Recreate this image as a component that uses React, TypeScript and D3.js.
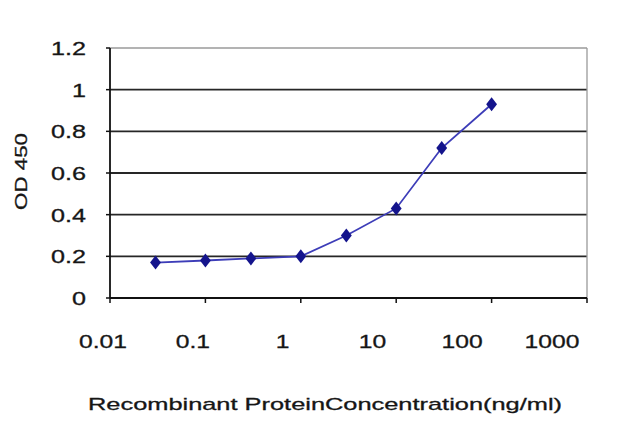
import React from "react";
import * as d3 from "d3";

const concentrations = [0.03, 0.1, 0.3, 1, 3, 10, 30, 100];
const odValues = [0.17, 0.18, 0.19, 0.2, 0.3, 0.43, 0.72, 0.93];
const xTicks = [0.01, 0.1, 1, 10, 100, 1000];
const xTickLabels = ["0.01", "0.1", "1", "10", "100", "1000"];
const yTicks = [0, 0.2, 0.4, 0.6, 0.8, 1, 1.2];
const yTickLabels = ["0", "0.2", "0.4", "0.6", "0.8", "1", "1.2"];
const xTitle = "Recombinant ProteinConcentration(ng/ml)";
const yTitle = "OD 450";

const W = 640;
const H = 427;
const left = 110;
const right = 587;
const top = 48;
const bottom = 298;
const FONT = "'Liberation Sans', Arial, sans-serif";
const TEXT = "#161616";

export default function App() {
  const x = d3.scaleLog().domain([0.01, 1000]).range([left, right]);
  const xLabel = d3.scaleLog().domain([0.01, 1000]).range([103, 552]);
  const y = d3.scaleLinear().domain([0, 1.2]).range([bottom, top]);
  const line = d3
    .line<number>()
    .x((_, i) => x(concentrations[i]))
    .y((d) => y(d));
  const diamond = d3.symbol().type(d3.symbolDiamond).size(56)() as string;

  return (
    <svg
      width={W}
      height={H}
      style={{ position: "absolute", left: 0, top: 0, background: "#fff" }}
    >
      <rect x={0} y={0} width={W} height={H} fill="#fff" />
      {yTicks.map((t) =>
        t === 0 ? null : (
          <line
            key={"g" + t}
            x1={left}
            x2={right}
            y1={y(t)}
            y2={y(t)}
            stroke={t === 1.2 ? "#9a9a9a" : "#262626"}
            strokeWidth={t === 1.2 ? 1.3 : 1.8}
          />
        )
      )}
      <line x1={right} x2={right} y1={top} y2={bottom} stroke="#9a9a9a" strokeWidth={1.3} />
      <line x1={left} x2={left} y1={top} y2={bottom} stroke="#111" strokeWidth={1.8} />
      <line x1={left} x2={right} y1={bottom} y2={bottom} stroke="#111" strokeWidth={1.8} />
      {xTicks.map((t) => (
        <line key={"xt" + t} x1={x(t)} x2={x(t)} y1={bottom} y2={bottom + 5} stroke="#111" strokeWidth={1.5} />
      ))}
      {yTicks.map((t) => (
        <line key={"yt" + t} x1={left - 4} x2={left} y1={y(t)} y2={y(t)} stroke="#111" strokeWidth={1.5} />
      ))}
      {yTicks.map((t, i) => (
        <g key={"yl" + t} transform={`translate(86,${y(t) + 1}) scale(1.4,1)`}>
          <text
            textAnchor="end"
            dominantBaseline="central"
            fontFamily={FONT}
            fontSize={18}
            fill={TEXT}
            stroke={TEXT}
            strokeWidth={0.3}
          >
            {yTickLabels[i]}
          </text>
        </g>
      ))}
      {xTicks.map((t, i) => (
        <g key={"xl" + t} transform={`translate(${xLabel(t)},342) scale(1.3,1)`}>
          <text
            textAnchor="middle"
            dominantBaseline="central"
            fontFamily={FONT}
            fontSize={19}
            fill={TEXT}
            stroke={TEXT}
            strokeWidth={0.3}
          >
            {xTickLabels[i]}
          </text>
        </g>
      ))}
      <text
        x={88}
        y={410}
        fontFamily={FONT}
        fontSize={17}
        fill={TEXT}
        stroke={TEXT}
        strokeWidth={0.3}
        textLength={474}
        lengthAdjust="spacingAndGlyphs"
      >
        {xTitle}
      </text>
      <text
        transform="translate(27,210) rotate(-90)"
        fontFamily={FONT}
        fontSize={17}
        fill={TEXT}
        stroke={TEXT}
        strokeWidth={0.3}
        textLength={77}
        lengthAdjust="spacingAndGlyphs"
      >
        {yTitle}
      </text>
      <path d={line(odValues) || ""} fill="none" stroke="#3d3db8" strokeWidth={1.8} />
      {odValues.map((v, i) => (
        <path
          key={"m" + i}
          d={diamond}
          transform={`translate(${x(concentrations[i])},${y(v)}) scale(1.35,1)`}
          fill="#14148c"
        />
      ))}
    </svg>
  );
}
